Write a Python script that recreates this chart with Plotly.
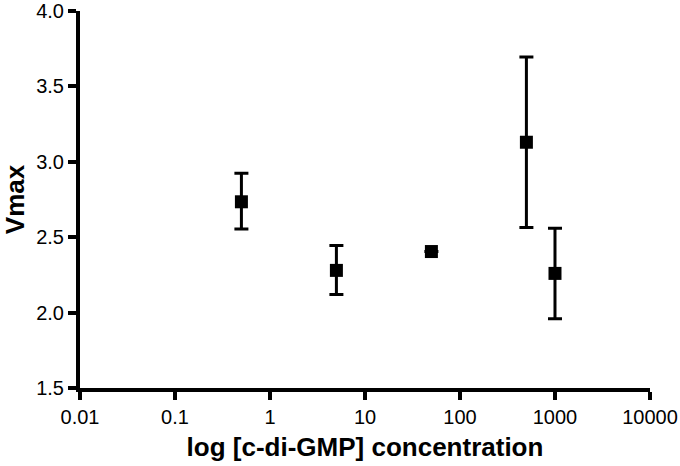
import plotly.graph_objects as go

conc = [0.5, 5, 50, 500, 1000]
vmax = [2.735, 2.28, 2.405, 3.13, 2.26]
err_plus = [0.19, 0.165, 0.0, 0.565, 0.30]
err_minus = [0.18, 0.16, 0.0, 0.565, 0.30]

x_ticks = [0.01, 0.1, 1, 10, 100, 1000, 10000]
x_tick_labels = ["0.01", "0.1", "1", "10", "100", "1000", "10000"]
y_ticks = [1.5, 2.0, 2.5, 3.0, 3.5, 4.0]
y_tick_labels = ["1.5", "2.0", "2.5", "3.0", "3.5", "4.0"]

fig = go.Figure()
fig.add_trace(go.Scatter(
    x=conc, y=vmax, mode="markers",
    marker=dict(symbol="square", size=13, color="black"),
    error_y=dict(type="data", symmetric=False, array=err_plus, arrayminus=err_minus,
                 color="black", thickness=3, width=7),
    showlegend=False,
))

font = "Liberation Sans, Arial, sans-serif"
fig.update_layout(
    width=680, height=466,
    margin=dict(l=80, r=30, t=11, b=78),
    paper_bgcolor="white", plot_bgcolor="white",
    font=dict(family=font, color="black", size=20),
    xaxis=dict(
        type="log", range=[-2.0001, 4.0001],
        tickvals=x_ticks, ticktext=x_tick_labels,
        showgrid=False, zeroline=False, automargin=False,
        ticklabeloverflow="allow",
        showline=True, linecolor="black", linewidth=4,
        ticks="outside", ticklen=8, tickwidth=4, tickcolor="black",
        tickfont=dict(size=20),
        title=dict(text="<b>log [c-di-GMP] concentration</b>", font=dict(size=26), standoff=12),
    ),
    yaxis=dict(
        range=[1.4999, 4.0005],
        tickvals=y_ticks, ticktext=y_tick_labels,
        showgrid=False, zeroline=False, automargin=False,
        ticklabeloverflow="allow",
        showline=True, linecolor="black", linewidth=4,
        ticks="outside", ticklen=8, tickwidth=4, tickcolor="black",
        tickfont=dict(size=20),
        title=dict(text="<b>Vmax</b>", font=dict(size=26), standoff=14),
    ),
)

fig.write_html("out.html", config={"displayModeBar": False},
               post_script="document.body.style.margin='0';")
